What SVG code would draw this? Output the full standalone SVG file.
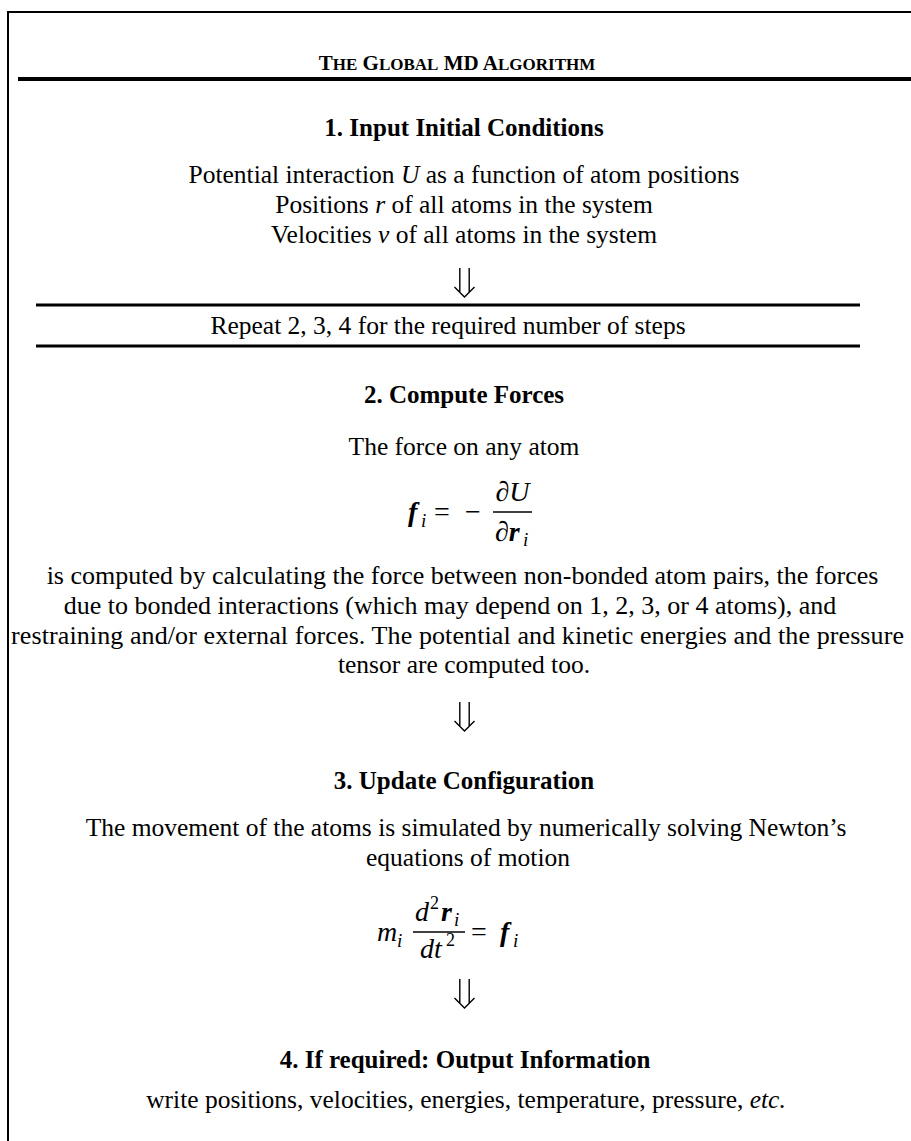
<svg xmlns="http://www.w3.org/2000/svg" xmlns:xlink="http://www.w3.org/1999/xlink" width="911" height="1141" viewBox="0 0 911 1141">
<style>
.t{font-family:"Liberation Serif","Times New Roman",serif;font-size:25.5px;fill:#000}
.c{text-anchor:middle}
.b{font-weight:bold;font-size:25px}
.p{font-size:26px}
.it{font-style:italic}
.m{font-family:"Liberation Serif","Times New Roman",serif;font-style:italic;fill:#000}
.up{font-style:normal}
.bi{font-weight:bold}
.rule{stroke:#000;fill:none}
.arr{stroke:#000;stroke-width:1.4;fill:none}
</style>
<defs>
<g id="dbl">
<path class="arr" d="M-4.7,0V24.3M4.7,0V24.3M-10,19L0,29L10,19"/>
</g>
</defs>
<rect width="911" height="1141" fill="#fff"/>
<g id="frame">
<path class="rule" stroke-width="2" d="M8,1141V12H911"/>
</g>
<g id="title">
<text class="t c b" x="457" y="70" style="font-size:21px">T<tspan style="font-size:17px">HE</tspan> G<tspan style="font-size:17px">LOBAL</tspan> MD A<tspan style="font-size:17px">LGORITHM</tspan></text>
<path class="rule" stroke-width="4" d="M18,79H911"/>
</g>
<g id="step1">
<text class="t c b" x="464" y="136">1. Input Initial Conditions</text>
<text class="t c" x="464" y="183">Potential interaction <tspan class="it">U</tspan> as a function of atom positions</text>
<text class="t c" x="464" y="213">Positions <tspan class="it">r</tspan> of all atoms in the system</text>
<text class="t c" x="464" y="243">Velocities <tspan class="it">v</tspan> of all atoms in the system</text>
</g>
<g id="repeat">
<path class="rule" stroke-width="3" d="M36,305H860M36,346H860"/>
<text class="t c" x="448" y="334">Repeat 2, 3, 4 for the required number of steps</text>
</g>
<g id="step2">
<text class="t c b" x="464" y="403">2. Compute Forces</text>
<text class="t c" x="464" y="455">The force on any atom</text>
<text class="m bi" x="408" y="521" font-size="28">f</text>
<text class="m" x="421" y="527" font-size="19">i</text>
<text class="m up" x="434" y="521" font-size="28">=</text>
<text class="m up" x="465" y="521" font-size="28">−</text>
<path class="rule" stroke-width="1.6" d="M493,512H532"/>
<text class="m" x="512.5" y="501" font-size="28" text-anchor="middle">∂U</text>
<text class="m" x="495" y="541" font-size="28">∂<tspan class="bi">r</tspan></text>
<text class="m" x="523" y="546" font-size="19">i</text>
<text class="t p c" x="462.5" y="584">is computed by calculating the force between non-bonded atom pairs, the forces</text>
<text class="t p c" x="450" y="614">due to bonded interactions (which may depend on 1, 2, 3, or 4 atoms), and</text>
<text class="t p c" x="457.5" y="644" textLength="893" lengthAdjust="spacing">restraining and/or external forces. The potential and kinetic energies and the pressure</text>
<text class="t c" x="464" y="673">tensor are computed too.</text>
</g>
<g id="step3">
<text class="t c b" x="464" y="789">3. Update Configuration</text>
<text class="t c" x="466" y="836">The movement of the atoms is simulated by numerically solving Newton’s</text>
<text class="t c" x="468" y="866">equations of motion</text>
<text class="m" x="377" y="941" font-size="28">m</text>
<text class="m" x="397" y="947" font-size="19">i</text>
<path class="rule" stroke-width="1.6" d="M413,932H465"/>
<text class="m" x="415" y="921" font-size="28">d</text>
<text class="m up" x="430" y="909" font-size="18">2</text>
<text class="m bi" x="441" y="921" font-size="28">r</text>
<text class="m" x="454" y="926" font-size="19">i</text>
<text class="m" x="420" y="958" font-size="28">dt</text>
<text class="m up" x="446" y="946" font-size="18">2</text>
<text class="m up" x="471" y="941" font-size="28">=</text>
<text class="m bi" x="500" y="941" font-size="28">f</text>
<text class="m" x="513" y="947" font-size="19">i</text>
</g>
<g id="step4">
<text class="t c b" x="465" y="1068">4. If required: Output Information</text>
<text class="t c" x="466" y="1108">write positions, velocities, energies, temperature, pressure, <tspan class="it">etc.</tspan></text>
</g>
<g id="connectors">
<use xlink:href="#dbl" x="464.5" y="268"/>
<use xlink:href="#dbl" x="464.5" y="702"/>
<use xlink:href="#dbl" x="464.5" y="979"/>
</g>
</svg>
